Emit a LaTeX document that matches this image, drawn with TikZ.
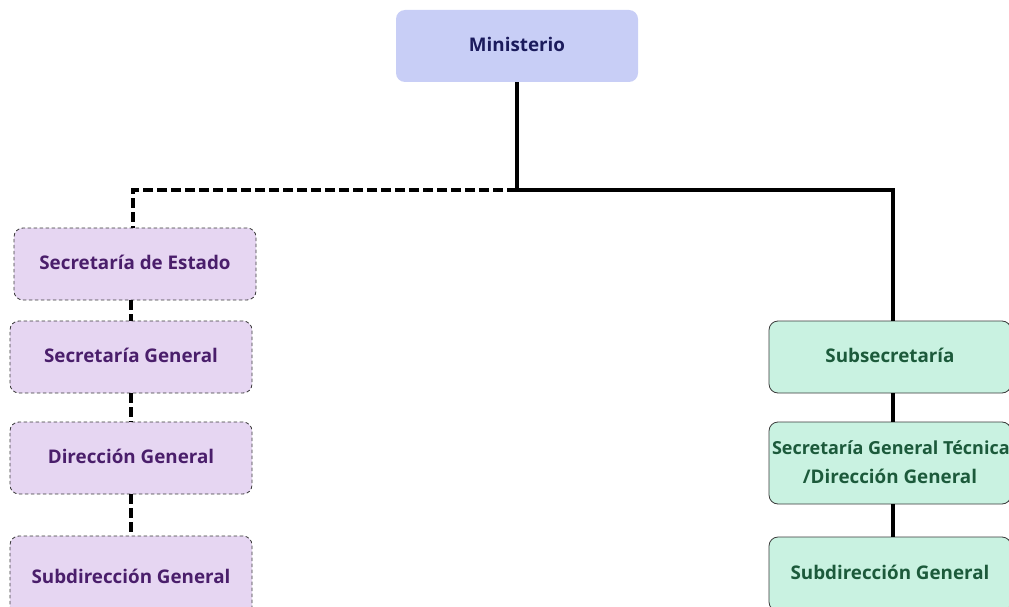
\documentclass[tikz,border=0pt]{standalone}
\usepackage{fontspec}
\setmainfont{Open Sans}
\definecolor{minfill}{HTML}{C8CEF6}
\definecolor{mintext}{HTML}{1B1B5C}
\definecolor{secfill}{HTML}{E6D6F2}
\definecolor{sectext}{HTML}{4A1E6B}
\definecolor{subfill}{HTML}{C9F2E1}
\definecolor{subtext}{HTML}{1C5A3B}
\definecolor{boxline}{HTML}{3A3A3A}
% label inside a unit box, set a little above the box centre
\newcommand\unitlabel[1]{\raisebox{3pt}{\begin{tabular}{@{}c@{}}#1\end{tabular}}}
\tikzset{
  unit/.style={rounded corners=9pt, minimum width=242pt, minimum height=72pt,
    inner sep=0pt, align=center, font=\fontsize{18.8}{29}\selectfont\bfseries},
  topbox/.style={unit, fill=minfill, text=mintext},
  statebox/.style={unit, fill=secfill, text=sectext, draw=boxline, line width=0.8pt,
    dash pattern=on 3.5pt off 2.5pt},
  civilbox/.style={unit, fill=subfill, text=subtext, draw=boxline, line width=0.8pt},
  link/.style={line width=3.5pt, black},
  dlink/.style={link, dash pattern=on 10pt off 4pt}
}
\begin{document}
\begin{tikzpicture}[x=1pt,y=-1pt]
\useasboundingbox (0,0) rectangle (1009,607);
% top level
\node[topbox] (min) at (517,46) {\unitlabel{Ministerio}};
% left branch (dashed)
\node[statebox] (se) at (135,264) {\unitlabel{Secretaría de Estado}};
\node[statebox] (sg) at (131,357) {\unitlabel{Secretaría General}};
\node[statebox] (dg) at (131,458) {\unitlabel{Dirección General}};
\node[statebox, minimum height=84pt] (sdl) at (131,578) {\unitlabel{Subdirección General}};
% right branch (solid)
\node[civilbox] (ss) at (890,357) {\unitlabel{Subsecretaría}};
\node[civilbox, minimum height=82pt] (sgt) at (890,463)
  {\begin{tabular}{@{}c@{}}\makebox[236pt][l]{\fontsize{18}{29}\selectfont Secretaría General Técnica}\\/Dirección General\end{tabular}};
\node[civilbox, minimum height=74pt] (sdr) at (890,574) {\unitlabel{Subdirección General}};
% junction under the ministry
\coordinate (j) at (517,190);
\draw[link] (min.south) -- (j) -| (ss.north -| 893,0);
\draw[dlink] (j) -| (se.north -| 133,0);
\draw[dlink] (se.south -| 131,0) -- (sg.north -| 131,0);
\draw[dlink] (sg.south -| 131,0) -- (dg.north -| 131,0);
\draw[dlink] (dg.south -| 131,0) -- (sdl.north -| 131,0);
\draw[link] (ss.south -| 893,0) -- (sgt.north -| 893,0);
\draw[link] (sgt.south -| 893,0) -- (sdr.north -| 893,0);
\end{tikzpicture}
\end{document}
